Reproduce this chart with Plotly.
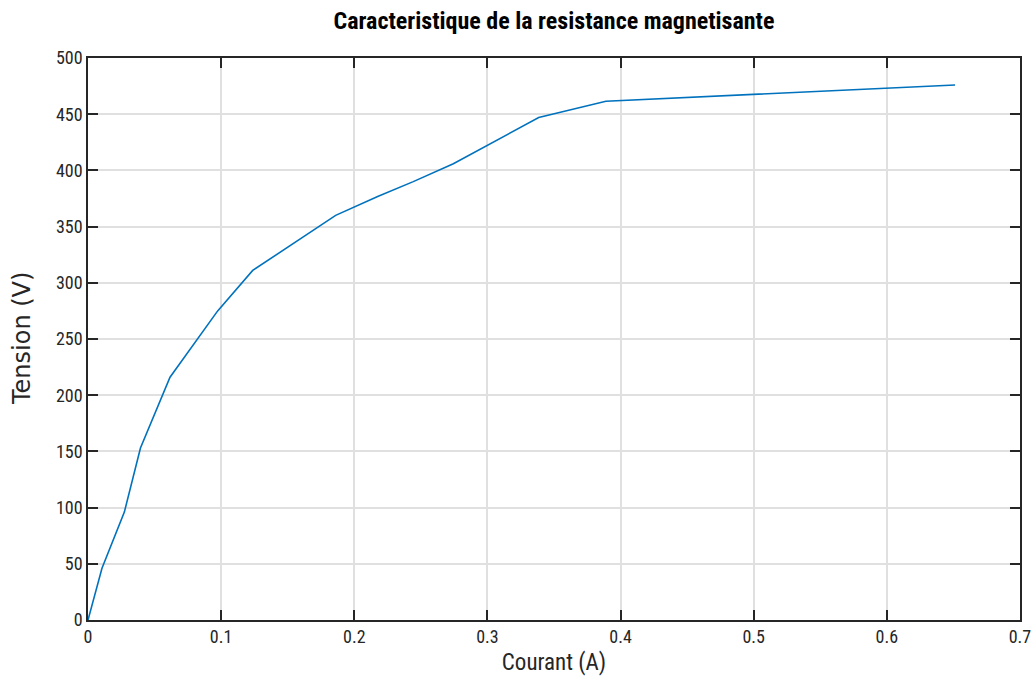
import plotly.graph_objects as go

courant = [0, 0.0105, 0.0273, 0.0394, 0.0616, 0.0974, 0.1237, 0.1860, 0.2180, 0.2443, 0.2744, 0.3385, 0.3890, 0.6512]
tension = [0, 46, 96, 153, 216, 275, 311, 360, 377, 390, 406, 447, 461.5, 476]

title_text = "Caracteristique de la resistance magnetisante"
x_title = "Courant (A)"
y_title = "Tension (V)"

narrow = "Liberation Sans Narrow, Arial Narrow, Roboto Condensed, sans-serif"

fig = go.Figure()
fig.add_trace(go.Scatter(x=courant, y=tension, mode="lines",
                         line=dict(color="#0072BD", width=1.6),
                         showlegend=False, hoverinfo="x+y"))

axis_common = dict(
    showline=True, linecolor="#262626", linewidth=1.5, mirror="allticks",
    ticks="inside", ticklen=10, tickwidth=2, tickcolor="#262626",
    showgrid=True, gridcolor="#e0e0e0", gridwidth=1.5,
    zeroline=False, automargin=False,
    tickfont=dict(family=narrow, size=18, color="#262626"),
)

fig.update_layout(
    width=1034, height=680,
    margin=dict(l=88, r=14, t=58, b=60),
    paper_bgcolor="white", plot_bgcolor="white",
    title=dict(text="<b>" + title_text + "</b>", x=554/1034, xanchor="center",
               y=1 - 21/680, yanchor="middle",
               font=dict(family=narrow, size=24, color="black")),
    xaxis=dict(range=[0, 0.7], dtick=0.1, tick0=0,
               title=dict(text=x_title, standoff=8,
                          font=dict(family=narrow, size=23, color="#262626")),
               **axis_common),
    yaxis=dict(range=[0, 500], dtick=50, tick0=0, **axis_common),
    annotations=[dict(text=y_title, textangle=-90, showarrow=False,
                      xref="paper", yref="paper", x=-66/932, y=0.5,
                      xanchor="center", yanchor="middle",
                      font=dict(family="DejaVu Sans, sans-serif", size=24, color="#262626"))],
)

fig.write_html("out.html")
